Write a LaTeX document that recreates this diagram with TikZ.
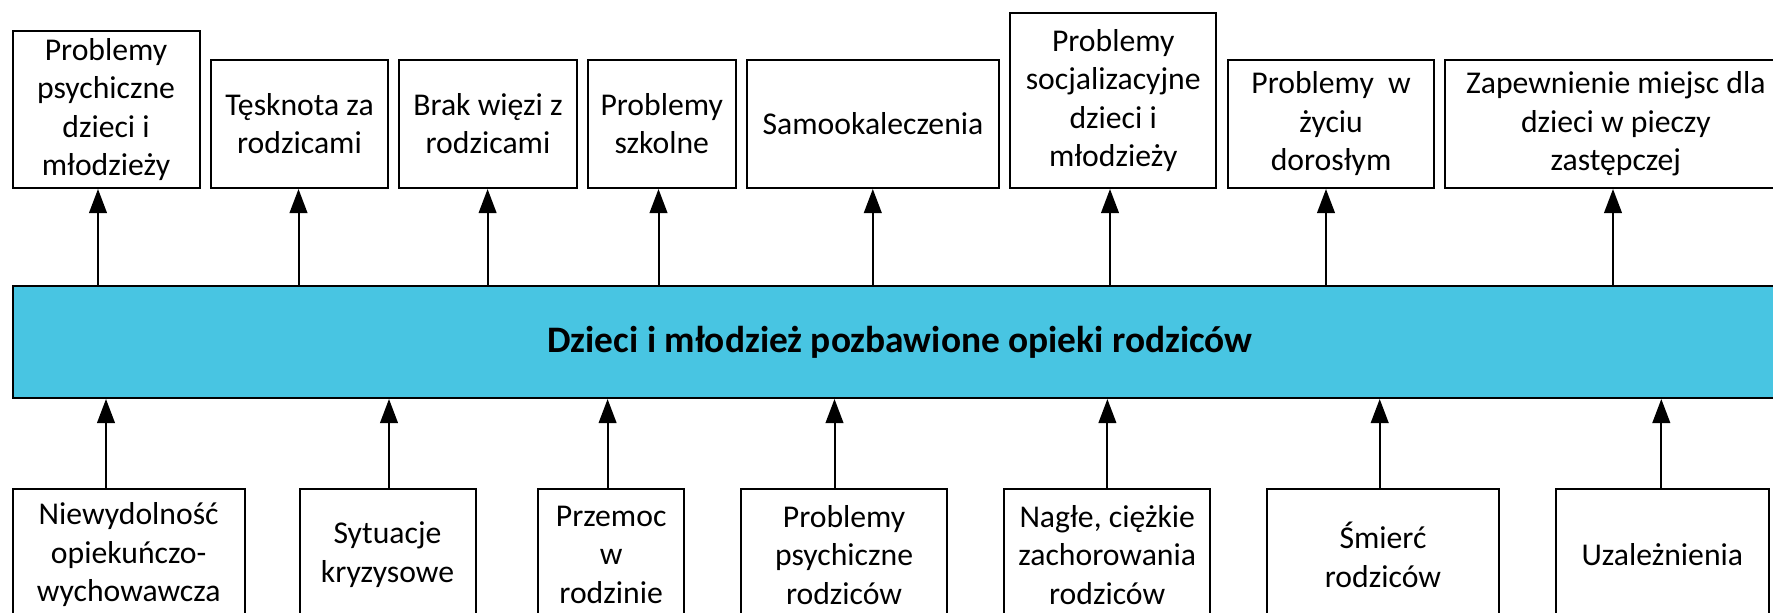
\documentclass[tikz,border=0pt]{standalone}
\usepackage{fontspec}
\setmainfont{Carlito}
\usetikzlibrary{arrows.meta}
\definecolor{barcyan}{RGB}{72,197,226}
\tikzset{
  box/.style={draw=black, line width=2pt, fill=white, anchor=north west, align=center,
    inner sep=0pt, font={\fontsize{31.7}{38.4}\selectfont}},
  bigbar/.style={draw=black, line width=2pt, fill=barcyan, anchor=north west, align=center,
    inner sep=0pt, font={\fontsize{37.4}{44}\selectfont\bfseries}},
  arr/.style={line width=2pt, -{Triangle[length=24pt,width=17.6pt]}}
}
\begin{document}
\begin{tikzpicture}[x=1pt,y=-1pt]
\useasboundingbox (0,0) rectangle (1773,613);
\clip (0,0) rectangle (1773,613);
% top boxes
\node[box, minimum width=187.1pt, minimum height=156.7pt] (t1) at (11.5,30.3) {Problemy\\psychiczne\\dzieci i\\młodzieży};
\node[box, minimum width=177pt, minimum height=128.3pt] (t2) at (210,58.7) {Tęsknota za\\rodzicami};
\node[box, minimum width=177.2pt, minimum height=128.3pt] (t3) at (398.4,58.7) {Brak więzi z\\rodzicami};
\node[box, minimum width=148.5pt, minimum height=128.3pt] (t4) at (586.5,58.7) {Problemy\\szkolne};
\node[box, minimum width=252.6pt, minimum height=128.3pt] (t5) at (745.7,58.7) {Samookaleczenia};
\node[box, minimum width=205.6pt, minimum height=175pt] (t6) at (1009.4,12) {Problemy\\socjalizacyjne\\dzieci i\\młodzieży};
\node[box, minimum width=206.2pt, minimum height=128.3pt] (t7) at (1227,58.7) {Problemy\ \ w\\życiu\\dorosłym};
\node[box, minimum width=341pt, minimum height=128.3pt] (t8) at (1444.3,58.7) {Zapewnienie miejsc dla\\dzieci w pieczy\\zastępczej};
% central bar
\node[bigbar, minimum width=1775pt, minimum height=112pt] (bar) at (11.5,285) {Dzieci i młodzież pozbawione opieki rodziców};
% bottom boxes
\node[box, minimum width=232.3pt, minimum height=131pt] (b1) at (11.5,488.3) {Niewydolność\\opiekuńczo-\\wychowawcza};
\node[box, minimum width=176pt, minimum height=131pt] (b2) at (298.5,488.3) {Sytuacje\\kryzysowe};
\node[box, minimum width=146.3pt, minimum height=131pt] (b3) at (537,488.3) {Przemoc\\w\\rodzinie};
\node[box, minimum width=206.2pt, minimum height=131pt] (b4) at (740,488.3) {Problemy\\psychiczne\\rodziców};
\node[box, minimum width=206.4pt, minimum height=131pt] (b5) at (1003,488.3) {Nagłe, ciężkie\\zachorowania\\rodziców};
\node[box, minimum width=232.7pt, minimum height=131pt] (b6) at (1265.6,488.3) {Śmierć\\rodziców};
\node[box, minimum width=213.4pt, minimum height=131pt] (b7) at (1554.6,488.3) {Uzależnienia};
% arrow x positions
\coordinate (ta1) at (98,0);
\coordinate (ta2) at (298.5,0);
\coordinate (ta3) at (487.6,0);
\coordinate (ta4) at (658.5,0);
\coordinate (ta5) at (872.8,0);
\coordinate (ta6) at (1110,0);
\coordinate (ta7) at (1326,0);
\coordinate (ta8) at (1613,0);
\coordinate (ba1) at (106,0);
\coordinate (ba2) at (389,0);
\coordinate (ba3) at (607.6,0);
\coordinate (ba4) at (834.5,0);
\coordinate (ba5) at (1107.4,0);
\coordinate (ba6) at (1379.7,0);
\coordinate (ba7) at (1661.3,0);
% top arrows
\foreach \i in {1,...,8}{
  \draw[arr] (bar.north -| ta\i) -- (t\i.south -| ta\i);
}
% bottom arrows
\foreach \i in {1,...,7}{
  \draw[arr] (b\i.north -| ba\i) -- (bar.south -| ba\i);
}
\end{tikzpicture}
\end{document}
